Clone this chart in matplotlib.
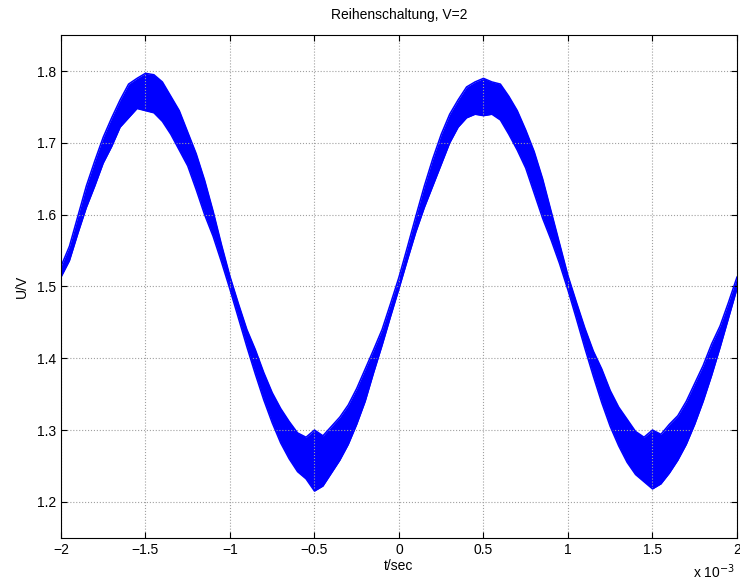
import matplotlib.pyplot as plt

plt.rcParams.update({
    'font.family': ['Liberation Sans', 'DejaVu Sans'],
    'font.size': 10,
    'xtick.direction': 'in',
    'ytick.direction': 'in',
    'xtick.top': True,
    'ytick.right': True,
})

# time axis in ms (scaled by 1e-3 on the plot)
t_ms = [-2.00, -1.95, -1.90, -1.85, -1.80, -1.75, -1.70, -1.65, -1.60, -1.55,
        -1.50, -1.45, -1.40, -1.35, -1.30, -1.25, -1.20, -1.15, -1.10, -1.05,
        -1.00, -0.95, -0.90, -0.85, -0.80, -0.75, -0.70, -0.65, -0.60, -0.55,
        -0.50, -0.45, -0.40, -0.35, -0.30, -0.25, -0.20, -0.15, -0.10, -0.05,
        0.00, 0.05, 0.10, 0.15, 0.20, 0.25, 0.30, 0.35, 0.40, 0.45,
        0.50, 0.55, 0.60, 0.65, 0.70, 0.75, 0.80, 0.85, 0.90, 0.95,
        1.00, 1.05, 1.10, 1.15, 1.20, 1.25, 1.30, 1.35, 1.40, 1.45,
        1.50, 1.55, 1.60, 1.65, 1.70, 1.75, 1.80, 1.85, 1.90, 1.95, 2.00]

# lower / upper edge of the noisy voltage trace
u_low = [1.513, 1.536, 1.574, 1.610, 1.640, 1.672, 1.695, 1.722, 1.735, 1.748,
         1.745, 1.742, 1.730, 1.712, 1.690, 1.668, 1.635, 1.600, 1.570, 1.534,
         1.496, 1.456, 1.416, 1.378, 1.342, 1.310, 1.282, 1.260, 1.242, 1.232,
         1.215, 1.222, 1.240, 1.258, 1.280, 1.308, 1.340, 1.380, 1.418, 1.458,
         1.497, 1.537, 1.576, 1.610, 1.640, 1.670, 1.700, 1.722, 1.735, 1.740,
         1.738, 1.740, 1.732, 1.712, 1.690, 1.665, 1.630, 1.595, 1.565, 1.532,
         1.495, 1.455, 1.414, 1.375, 1.338, 1.305, 1.278, 1.255, 1.238, 1.228,
         1.218, 1.225, 1.240, 1.258, 1.280, 1.308, 1.340, 1.376, 1.415, 1.456, 1.497]
u_high = [1.528, 1.556, 1.598, 1.640, 1.675, 1.708, 1.735, 1.760, 1.782, 1.790,
          1.797, 1.795, 1.785, 1.765, 1.745, 1.715, 1.685, 1.648, 1.605, 1.558,
          1.514, 1.476, 1.440, 1.412, 1.380, 1.352, 1.330, 1.312, 1.296, 1.290,
          1.300, 1.292, 1.305, 1.318, 1.335, 1.358, 1.385, 1.412, 1.440, 1.476,
          1.513, 1.555, 1.598, 1.640, 1.678, 1.712, 1.740, 1.760, 1.778, 1.785,
          1.790, 1.785, 1.782, 1.765, 1.745, 1.718, 1.688, 1.650, 1.605, 1.560,
          1.515, 1.478, 1.442, 1.410, 1.385, 1.355, 1.332, 1.315, 1.298, 1.290,
          1.300, 1.294, 1.308, 1.320, 1.340, 1.365, 1.390, 1.420, 1.445, 1.478, 1.513]

fig = plt.figure(figsize=(7.40, 5.83), dpi=100)
ax = fig.add_axes([0.0824, 0.0777, 0.9135, 0.8618])

ax.fill_between(t_ms, u_low, u_high, color='#0000ff', linewidth=0)
ax.plot(t_ms, u_low, color='#0000ff', linewidth=1.1)
ax.plot(t_ms, u_high, color='#0000ff', linewidth=1.1)

ax.set_xlim(-2, 2)
ax.set_ylim(1.15, 1.85)
ax.set_xticks([-2, -1.5, -1, -0.5, 0, 0.5, 1, 1.5, 2])
ax.set_xticklabels(['\u22122', '\u22121.5', '\u22121', '\u22120.5', '0',
                    '0.5', '1', '1.5', '2'])
ax.set_yticks([1.2, 1.3, 1.4, 1.5, 1.6, 1.7, 1.8])
ax.grid(True, linestyle=':', color='#a0a0a0', linewidth=0.8)
ax.tick_params(length=4, width=0.8, colors='black')
for s in ax.spines.values():
    s.set_linewidth(0.8)

ax.set_title('Reihenschaltung, V=2', fontsize=10, pad=12)
ax.set_xlabel('t/sec', labelpad=2)
ax.set_ylabel('U/V', labelpad=6)
fig.text(0.937, 0.004, 'x 10$^{-3}$', fontsize=10, ha='left', va='bottom')

fig.savefig('out.png', dpi=100)
